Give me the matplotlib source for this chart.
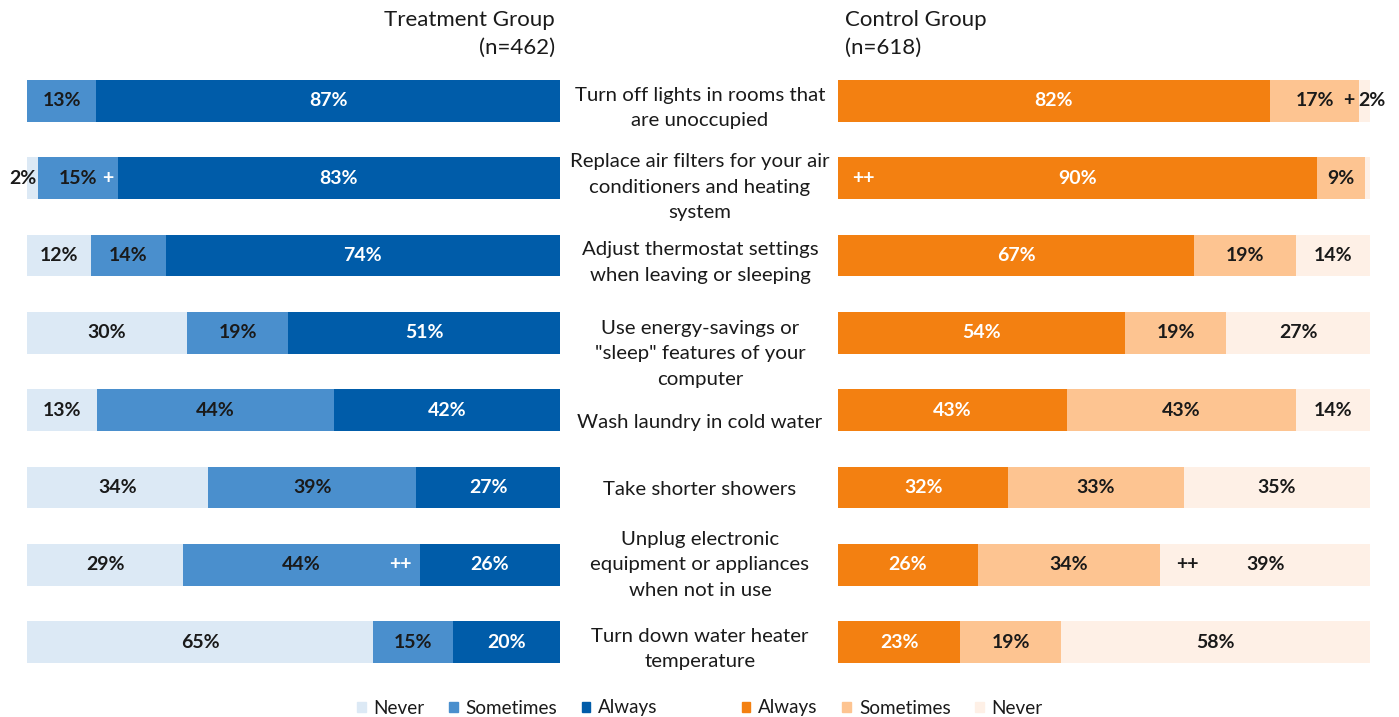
import numpy as np
import matplotlib
matplotlib.use('Agg')
import matplotlib.pyplot as plt
from matplotlib.patches import Patch
from matplotlib.transforms import blended_transform_factory, offset_copy

plt.rcParams['font.family'] = ['Lato', 'DejaVu Sans']

# Fragen (von oben nach unten)
categories = [
    'Turn off lights in rooms that\nare unoccupied',
    'Replace air filters for your air\nconditioners and heating\nsystem',
    'Adjust thermostat settings\nwhen leaving or sleeping',
    'Use energy-savings or\n"sleep" features of your\ncomputer',
    'Wash laundry in cold water',
    'Take shorter showers',
    'Unplug electronic\nequipment or appliances\nwhen not in use',
    'Turn down water heater\ntemperature',
]

# Treatment-Gruppe: Never / Sometimes / Always in %
treat_never = [0, 2, 12, 30, 13, 34, 29, 65]
treat_sometimes = [13, 15, 14, 19, 44, 39, 44, 15]
treat_always = [87, 83, 74, 51, 42, 27, 26, 20]

# Kontrollgruppe: Always / Sometimes / Never in %
ctrl_always = [82, 90, 67, 54, 43, 32, 26, 23]
ctrl_sometimes = [17, 9, 19, 19, 43, 33, 34, 19]
ctrl_never = [2, 1, 14, 27, 14, 35, 39, 58]

c_never_b, c_some_b, c_alw_b = '#dce9f5', '#4a8fcd', '#005ca9'
c_alw_o, c_some_o, c_never_o = '#f38011', '#fdc491', '#fef0e6'
dark = '#1a1a1a'

fig = plt.figure(figsize=(13.99, 7.17), dpi=100)
W, H = 1399, 717

def px_axes(x0, x1, y0, y1):
    return fig.add_axes([x0 / W, 1 - y1 / H, (x1 - x0) / W, (y1 - y0) / H])

row_step = 77.3
top = 101 - row_step / 2
bottom = 642 + row_step / 2
ax_l = px_axes(27, 560, top, bottom)
ax_r = px_axes(838, 1370, top, bottom)

y = np.arange(len(categories))
bar_h = 0.54

def stacked(ax, series, colors, labels_on):
    arr = np.array(series, dtype=float)
    arr = arr / arr.sum(axis=0) * 100  # 100%-gestapelt
    left = np.zeros(arr.shape[1])
    segs = []
    for vals, raw, col, txtcol in zip(arr, series, colors, labels_on):
        ax.barh(y, vals, left=left, height=bar_h, color=col, edgecolor='none')
        segs.append((left.copy(), vals, raw, txtcol))
        left += vals
    return segs

segs_l = stacked(ax_l, [treat_never, treat_sometimes, treat_always],
                 [c_never_b, c_some_b, c_alw_b], [dark, dark, 'white'])
segs_r = stacked(ax_r, [ctrl_always, ctrl_sometimes, ctrl_never],
                 [c_alw_o, c_some_o, c_never_o], ['white', dark, dark])

lbl_kw = dict(fontsize=14, fontweight='bold', va='center')

def put_labels(ax, segs, skip):
    for si, (left, vals, raw, col) in enumerate(segs):
        for i in range(len(y)):
            if raw[i] == 0 or (si, i) in skip:
                continue
            ax.text(left[i] + vals[i] / 2, y[i], f'{raw[i]}%', ha='center',
                    color=col, **lbl_kw)

put_labels(ax_l, segs_l, skip={(0, 1)})
put_labels(ax_r, segs_r, skip={(2, 0), (2, 1)})

# kleine Segmente: Beschriftung außerhalb
ax_l.annotate(f'{treat_never[1]}%', xy=(segs_l[0][0][1] + segs_l[0][1][1], 1),
              xytext=(-1, 0), textcoords='offset points', ha='right', color=dark,
              annotation_clip=False, **lbl_kw)
ax_r.annotate(f'{ctrl_never[0]}%', xy=(segs_r[2][0][0], 0), xytext=(-1, 0),
              textcoords='offset points', ha='left', color=dark,
              annotation_clip=False, **lbl_kw)

# Signifikanz-Marker
def marker(ax, s, x, row, dx, ha, col):
    ax.annotate(s, xy=(x, row), xytext=(dx, 0), textcoords='offset points',
                ha=ha, color=col, annotation_clip=False, **lbl_kw)

marker(ax_l, '+', segs_l[1][0][1] + segs_l[1][1][1], 1, -3, 'right', 'white')
marker(ax_l, '++', segs_l[1][0][6] + segs_l[1][1][6], 6, -6, 'right', 'white')
marker(ax_r, '++', 0, 1, 10, 'left', 'white')
marker(ax_r, '+', segs_r[2][0][0], 0, -4, 'right', dark)
marker(ax_r, '++', segs_r[2][0][6], 6, 11, 'left', dark)

for ax in (ax_l, ax_r):
    ax.set_xlim(0, 100)
    ax.set_ylim(len(categories) - 0.5, -0.5)
    ax.axis('off')

# Kategorien in der Mitte
label_dy = [7, 9, 7, 21, 12, 2, 0, 7]
trans = blended_transform_factory(fig.transFigure, ax_l.transData)
for i, (cat, dy) in enumerate(zip(categories, label_dy)):
    t = offset_copy(trans, fig=fig, y=-dy, units='dots')
    fig.text(700 / W, y[i], cat, transform=t, ha='center', va='center',
             fontsize=14.7, color=dark, linespacing=1.62)

# Überschriften
head_kw = dict(va='center', fontsize=16, color=dark)
fig.text(555 / W, 1 - 20 / H, 'Treatment Group', ha='right', **head_kw)
fig.text(555 / W, 1 - 48 / H, '(n=462)', ha='right', **head_kw)
fig.text(845 / W, 1 - 20 / H, 'Control Group', ha='left', **head_kw)
fig.text(845 / W, 1 - 48 / H, '(n=618)', ha='left', **head_kw)

# Legenden
leg_kw = dict(ncol=3, frameon=False, fontsize=13.6, handlelength=0.45,
              handleheight=0.45, handletextpad=0.42, columnspacing=1.3,
              borderaxespad=0, borderpad=0, labelcolor=dark)
h_l = [Patch(color=c_never_b, label='Never'), Patch(color=c_some_b, label='Sometimes'),
       Patch(color=c_alw_b, label='Always')]
h_r = [Patch(color=c_alw_o, label='Always'), Patch(color=c_some_o, label='Sometimes'),
       Patch(color=c_never_o, label='Never')]
fig.legend(handles=h_l, loc='center left', bbox_to_anchor=(357 / W, 1 - 708 / H), **leg_kw)
fig.legend(handles=h_r, loc='center left', bbox_to_anchor=(742 / W, 1 - 708 / H), **leg_kw)

fig.savefig('out.png', dpi=100)
